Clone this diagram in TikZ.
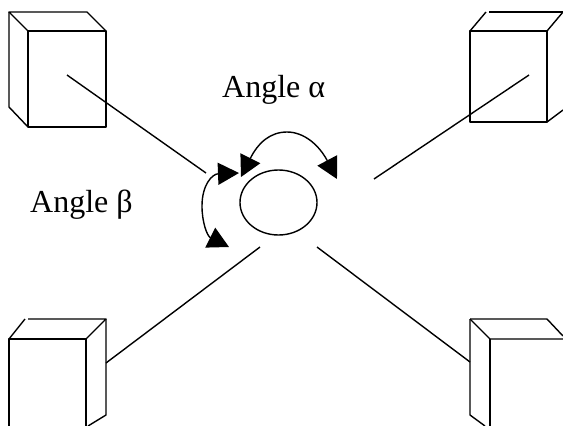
\documentclass[tikz,border=0pt]{standalone}
\usepackage{fontspec}
\setmainfont{Liberation Serif}
\usetikzlibrary{arrows.meta}

\tikzset{
  edge/.style={line width=1.4pt, line join=round},
  turn/.style={line width=1.4pt, -{Triangle[length=21pt,width=22pt]}},
  anglelabel/.style={font=\fontsize{32}{34}\selectfont, inner sep=0pt, anchor=base west}
}

\begin{document}
\begin{tikzpicture}[x=1pt,y=-1pt]

\useasboundingbox (0,0) rectangle (563,426);

% Top left box
\draw[edge] (28,31) rectangle (106,127);
\draw[edge] (28,31) -- (9,12) -- (87,12) -- (106,31);
\draw[edge] (9,12) -- (9,107) -- (28,127);

% Top right box
\draw[edge] (470,31) rectangle (547,122);
\draw[edge] (470,31) -- (486,12);
\draw[edge] (489,12) -- (563,12);
\draw[edge] (547,31) -- (563,12);
\draw[edge] (547,122) -- (563,110);

% Bottom left box
\draw[edge] (9,426) -- (9,339) -- (86,339) -- (86,426);
\draw[edge] (9,339) -- (25,319);
\draw[edge] (28,319) -- (106,319) -- (86,339);
\draw[edge] (106,319) -- (106,415) -- (88,426);

% Bottom right box
\draw[edge] (470,319) -- (547,319) -- (563,336);
\draw[edge] (470,319) -- (490,339) -- (563,339);
\draw[edge] (490,339) -- (490,426);
\draw[edge] (470,319) -- (470,415) -- (485,426);

% Lines to the centre
\draw[edge] (67,75) -- (206,173);
\draw[edge] (529,75) -- (374,179);
\draw[edge] (106,363) -- (260,247);
\draw[edge] (317,247) -- (470,362);

% Centre
\draw[edge] (278.5,202.5) ellipse (38.5 and 32.5);

% Angle arrows
\draw[turn] (287,132) .. controls (270,132) and (258,143) .. (241,177);
\draw[turn] (287,132) .. controls (304,132) and (319,145) .. (337,179);
\draw[turn] (202,206) .. controls (202,185) and (212,174) .. (239,173);
\draw[turn] (202,206) .. controls (202,222) and (207,236) .. (229,247);

% Labels
\node[anglelabel] (alpha) at (222,97) {Angle α};
\node[anglelabel] (beta) at (30,212) {Angle β};

\end{tikzpicture}
\end{document}
